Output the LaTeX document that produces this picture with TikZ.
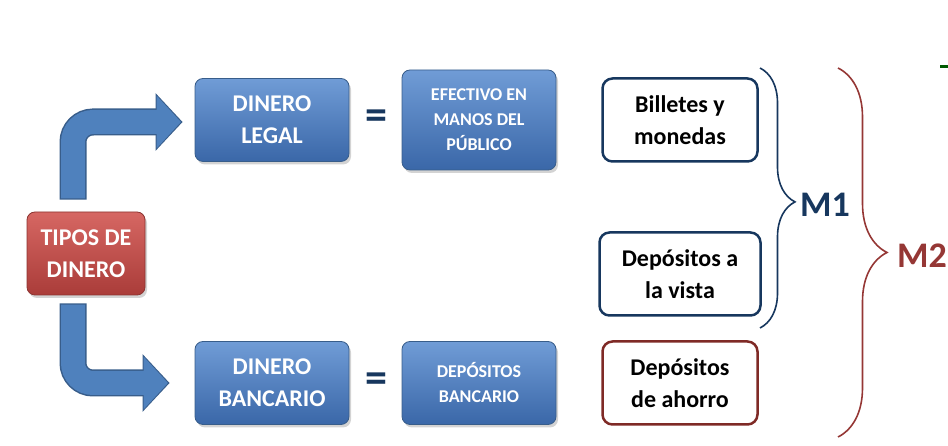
\documentclass[tikz,border=0pt]{standalone}
\usepackage{fontspec}
\setmainfont{Carlito}
\usetikzlibrary{arrows.meta,shadows,decorations.pathreplacing}

\definecolor{boxblue}{RGB}{79,129,189}
\definecolor{boxbluetop}{RGB}{112,156,214}
\definecolor{boxbluebot}{RGB}{58,103,168}
\definecolor{boxbluebd}{RGB}{56,93,138}
\definecolor{boxredtop}{RGB}{214,103,99}
\definecolor{boxredbot}{RGB}{170,60,57}
\definecolor{boxredbd}{RGB}{140,52,49}
\definecolor{navy}{RGB}{23,55,94}
\definecolor{darkred}{RGB}{127,42,38}
\definecolor{mred}{RGB}{149,55,53}

\tikzset{
  bluebox/.style={rounded corners=8pt, top color=boxbluetop, bottom color=boxbluebot,
    draw=boxbluebd, line width=0.8pt, text=white, align=center,
    font=\bfseries\fontsize{24}{32}\selectfont,
    minimum width=154pt, minimum height=83pt,
    drop shadow={opacity=0.35, shadow xshift=2pt, shadow yshift=-3pt}},
  smallblue/.style={bluebox, font=\bfseries\fontsize{18}{25}\selectfont},
  redbox/.style={bluebox, top color=boxredtop, bottom color=boxredbot, draw=boxredbd,
    minimum width=118pt},
  whitebox/.style={rounded corners=10pt, draw=navy, line width=2.5pt, fill=white,
    align=center, font=\bfseries\fontsize{24}{32}\selectfont,
    minimum width=155pt, minimum height=83pt},
  savingbox/.style={whitebox, draw=darkred},
  eqsign/.style={text=navy, font=\bfseries\fontsize{44}{44}\selectfont},
  bigarrowbd/.style={line width=27pt, draw=boxbluebd, rounded corners=20pt,
    -{Triangle[width=56pt,length=27pt]}},
  bigarrow/.style={line width=24pt, draw=boxblue, rounded corners=20pt,
    -{Triangle[width=51.5pt,length=24.5pt]}},
  mbrace/.style={decorate, line width=1.6pt},
  mlabel/.style={font=\bfseries\fontsize{36}{36}\selectfont}
}

\begin{document}
\begin{tikzpicture}[x=1pt,y=1pt]
            \def \xtipos {86}
            \def \xdin   {272}
            \def \xeq    {376}
            \def \xefe   {479}
            \def \xbox   {680}

            \def \ytop   {326}
            \def \ytipos {192.5}
            \def \yvista {172}
            \def \ybot   {63}

            \useasboundingbox (0,0) rectangle (948,446);
% boxes
            \node [redbox] (tipos) at (\xtipos, \ytipos) {TIPOS DE\\DINERO};

            \node [bluebox] (legal) at (\xdin, \ytop) {DINERO\\LEGAL};
            \node [eqsign] (eqtop) at (\xeq, \ytop) {=};
            \node [smallblue, minimum height=100pt] (efectivo) at (\xefe, \ytop) {EFECTIVO EN\\MANOS DEL\\PÚBLICO};

            \node [bluebox] (bancario) at (\xdin, \ybot) {DINERO\\BANCARIO};
            \node [eqsign] (eqbot) at (\xeq, \ybot) {=};
            \node [smallblue] (depbanc) at (\xefe, \ybot) {DEPÓSITOS\\BANCARIO};

            \node [whitebox] (billetes) at (\xbox, \ytop) {Billetes y\\monedas};
            \node [whitebox, minimum width=161pt] (vista) at (\xbox, \yvista) {Depósitos a\\la vista};
            \node [savingbox] (ahorro) at (\xbox, \ybot) {Depósitos\\de ahorro};
% arrows
            \draw [bigarrowbd] ([xshift=-13pt, yshift=12pt]tipos.north) |- ([xshift=-12pt, yshift=-2pt]legal.west);
            \draw [bigarrow] ([xshift=-13pt, yshift=13.2pt]tipos.north) |- ([xshift=-13.6pt, yshift=-2pt]legal.west);
            \draw [bigarrowbd] ([xshift=-13pt, yshift=-8pt]tipos.south) |- ([xshift=-25pt]bancario.west);
            \draw [bigarrow] ([xshift=-13pt, yshift=-9.2pt]tipos.south) |- ([xshift=-26.6pt]bancario.west);
% braces
            \coordinate (m1top) at (760, 378);
            \coordinate (m1bot) at (760, 118);
            \coordinate (m2top) at (838, 378);
            \coordinate (m2bot) at (838, 9);
            \draw [mbrace, navy, decoration={brace, amplitude=35pt, aspect=0.515}] (m1top) -- (m1bot);
            \draw [mbrace, mred, decoration={brace, amplitude=49pt, aspect=0.5}] (m2top) -- (m2bot);
            \node [mlabel, text=navy] (m1) at (825, 241) {M1};
            \node [mlabel, text=mred] (m2) at (922, 190) {M2};

            \draw [green!35!black, line width=3pt] (940, 379) -- (948, 379);
\end{tikzpicture}
\end{document}
